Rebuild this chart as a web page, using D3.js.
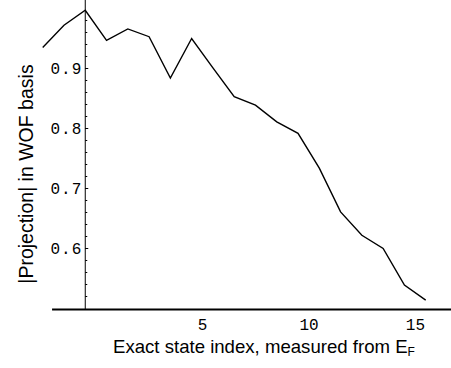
<!DOCTYPE html>
<html>
<head>
<meta charset="utf-8">
<script src="https://cdn.jsdelivr.net/npm/d3@7"></script>
<style>
  body { margin: 0; background: #fff; }
  svg { display: block; }
</style>
</head>
<body>
<script>
// state index relative to E_F, and |projection|
const stateIndex = [-2, -1, 0, 1, 2, 3, 4, 5, 6, 7, 8, 9, 10, 11, 12, 13, 14, 15, 16];
const projection = [0.935, 0.972, 0.997, 0.947, 0.966, 0.953, 0.884, 0.950, 0.901, 0.853,
                    0.839, 0.811, 0.792, 0.734, 0.661, 0.622, 0.600, 0.539, 0.514];
const xTicks = [5, 10, 15];
const yTicks = [0.6, 0.7, 0.8, 0.9];
const yMinorTicks = d3.range(0.52, 1.0, 0.02);

const width = 451, height = 368;

const svg = d3.select('body').append('svg')
  .attr('width', width)
  .attr('height', height);

const x = d3.scaleLinear()
  .domain([-2, 16])
  .range([42.7, 425.7]);

const y = d3.scaleLinear()
  .domain([0.5, 1.0])
  .range([308.5, 8.5]);

// x axis (thick line, labels only)
svg.append('line')
  .attr('x1', x(-1.56)).attr('x2', width)
  .attr('y1', 309.5).attr('y2', 309.5)
  .attr('stroke', '#000')
  .attr('stroke-width', 2);

svg.selectAll('.xlab')
  .data(xTicks)
  .enter()
  .append('text')
  .attr('class', 'xlab')
  .attr('x', d => x(d))
  .attr('dx', 11)
  .attr('y', 330)
  .attr('text-anchor', 'middle')
  .attr('font-family', 'Liberation Mono, monospace')
  .attr('font-size', 16)
  .text(d => d);

// y axis
svg.append('line')
  .attr('x1', x(0)).attr('x2', x(0))
  .attr('y1', 0).attr('y2', 309)
  .attr('stroke', '#000')
  .attr('stroke-width', 1);

svg.selectAll('.yminor')
  .data(yMinorTicks)
  .enter()
  .append('line')
  .attr('x1', x(0)).attr('x2', x(0) + 2)
  .attr('y1', d => y(d)).attr('y2', d => y(d))
  .attr('stroke', '#000');

svg.selectAll('.ymajor')
  .data(yTicks)
  .enter()
  .append('line')
  .attr('x1', x(0)).attr('x2', x(0) + 3)
  .attr('y1', d => y(d)).attr('y2', d => y(d))
  .attr('stroke', '#000');

svg.selectAll('.ylab')
  .data(yTicks)
  .enter()
  .append('text')
  .attr('x', x(0) - 3)
  .attr('y', d => y(d))
  .attr('dy', '0.32em')
  .attr('text-anchor', 'end')
  .attr('font-family', 'Liberation Mono, monospace')
  .attr('font-size', 16)
  .attr('letter-spacing', 1)
  .text(d => d.toFixed(1));

// the curve
const line = d3.line()
  .x((d, i) => x(stateIndex[i]))
  .y(d => y(d));

svg.append('path')
  .datum(projection)
  .attr('d', line)
  .attr('fill', 'none')
  .attr('stroke', '#000')
  .attr('stroke-width', 1.4)
  .attr('stroke-linejoin', 'miter');

// axis titles
const xt = svg.append('text')
  .attr('x', 113)
  .attr('y', 353)
  .attr('font-family', 'Liberation Sans, Arial, sans-serif')
  .attr('font-size', 18.6);
xt.append('tspan').text('Exact state index, measured from E');
xt.append('tspan').attr('font-size', 12).attr('dy', 3).text('F');

svg.append('text')
  .attr('transform', 'translate(33,174) rotate(-90)')
  .attr('text-anchor', 'middle')
  .attr('font-family', 'Liberation Sans, Arial, sans-serif')
  .attr('font-size', 19.5)
  .text('|Projection| in WOF basis');
</script>
</body>
</html>
